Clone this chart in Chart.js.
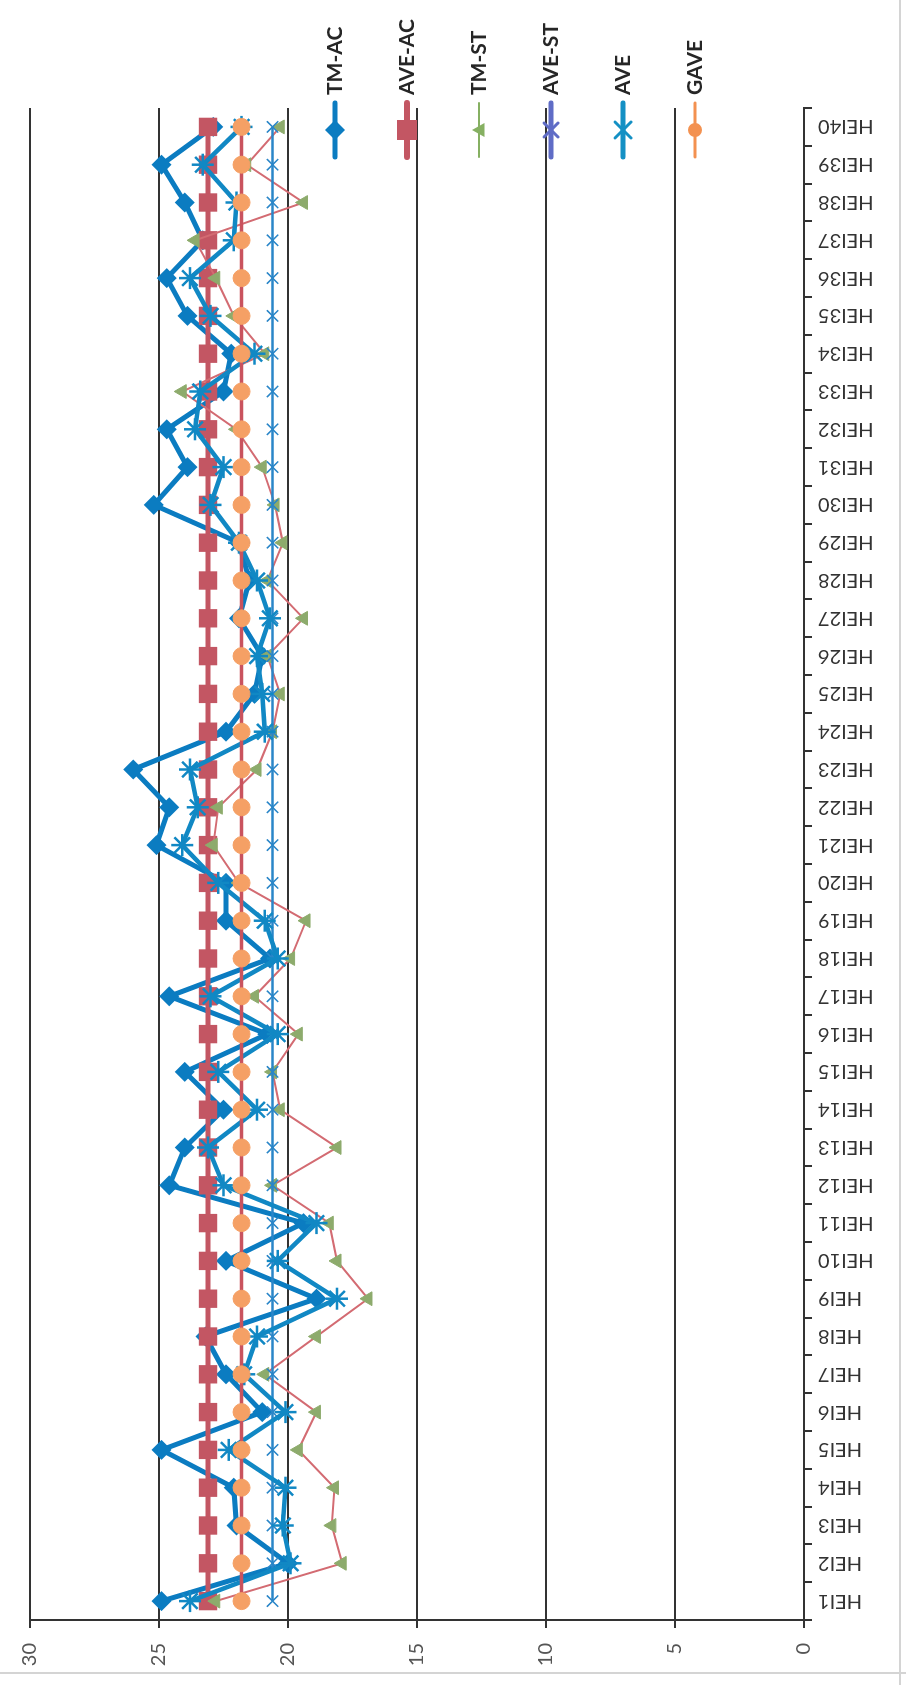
<!DOCTYPE html>
<html>
<head>
<meta charset="utf-8">
<script src="https://cdn.jsdelivr.net/npm/chart.js@4.4.1/dist/chart.umd.min.js"></script>
<style>
  html, body { margin: 0; padding: 0; background: #fff; }
  body { width: 906px; height: 1685px; overflow: hidden; position: relative; }
  /* the scanned chart is landscape, turned a quarter left on the page */
  #wrap { position: absolute; left: 0; top: 0; width: 1685px; height: 906px;
          transform-origin: 0 0; transform: translateY(1685px) rotate(-90deg); }
</style>
</head>
<body>
<div id="wrap"><canvas id="c" width="1685" height="906"></canvas></div>
<script>
const categories = ['HEI1','HEI2','HEI3','HEI4','HEI5','HEI6','HEI7','HEI8','HEI9','HEI10',
  'HEI11','HEI12','HEI13','HEI14','HEI15','HEI16','HEI17','HEI18','HEI19','HEI20',
  'HEI21','HEI22','HEI23','HEI24','HEI25','HEI26','HEI27','HEI28','HEI29','HEI30',
  'HEI31','HEI32','HEI33','HEI34','HEI35','HEI36','HEI37','HEI38','HEI39','HEI40'];

const tmAC  = [24.9, 20.0, 22.0, 22.1, 24.9, 21.0, 22.4, 23.2, 18.9, 22.4,
               19.4, 24.6, 24.0, 22.5, 24.0, 20.8, 24.6, 20.7, 22.4, 22.4,
               25.1, 24.6, 26.0, 22.4, 21.3, 21.0, 21.9, 21.5, 21.9, 25.2,
               23.9, 24.7, 22.5, 22.2, 23.9, 24.7, 23.3, 24.0, 24.9, 22.9];
const aveAC = [23.1, 23.1, 23.1, 23.1, 23.1, 23.1, 23.1, 23.1, 23.1, 23.1,
               23.1, 23.1, 23.1, 23.1, 23.1, 23.1, 23.1, 23.1, 23.1, 23.1,
               23.1, 23.1, 23.1, 23.1, 23.1, 23.1, 23.1, 23.1, 23.1, 23.1,
               23.1, 23.1, 23.1, 23.1, 23.1, 23.1, 23.1, 23.1, 23.1, 23.1];
const tmST  = [22.8, 17.9, 18.3, 18.2, 19.6, 18.9, 20.9, 18.9, 16.9, 18.1,
               18.4, 20.6, 18.1, 20.3, 20.6, 19.6, 21.3, 19.9, 19.3, 21.9,
               22.9, 22.7, 21.2, 20.6, 20.3, 20.8, 19.4, 20.8, 20.2, 20.5,
               21.0, 22.0, 24.1, 20.9, 22.1, 22.8, 23.6, 19.4, 21.6, 20.3];
const aveST = [20.6, 20.6, 20.6, 20.6, 20.6, 20.6, 20.6, 20.6, 20.6, 20.6,
               20.6, 20.6, 20.6, 20.6, 20.6, 20.6, 20.6, 20.6, 20.6, 20.6,
               20.6, 20.6, 20.6, 20.6, 20.6, 20.6, 20.6, 20.6, 20.6, 20.6,
               20.6, 20.6, 20.6, 20.6, 20.6, 20.6, 20.6, 20.6, 20.6, 20.6];
const ave   = [23.8, 19.9, 20.2, 20.1, 22.3, 20.1, 21.7, 21.2, 18.1, 20.4,
               18.9, 22.5, 23.1, 21.2, 22.7, 20.4, 23.0, 20.4, 20.9, 22.7,
               24.1, 23.5, 23.8, 20.9, 21.0, 21.2, 20.7, 21.2, 21.9, 23.0,
               22.5, 23.6, 23.4, 21.3, 23.0, 23.8, 22.1, 22.0, 23.3, 21.8];
const gave  = [21.8, 21.8, 21.8, 21.8, 21.8, 21.8, 21.8, 21.8, 21.8, 21.8,
               21.8, 21.8, 21.8, 21.8, 21.8, 21.8, 21.8, 21.8, 21.8, 21.8,
               21.8, 21.8, 21.8, 21.8, 21.8, 21.8, 21.8, 21.8, 21.8, 21.8,
               21.8, 21.8, 21.8, 21.8, 21.8, 21.8, 21.8, 21.8, 21.8, 21.8];

const valueTicks = { min: 0, max: 30, step: 5 };

// legend swatches as printed (the scan shifted some line colours in the plot)
const legendColors = ['#0b7cc1', '#c35663', '#86b062', '#5f6cc6', '#1490c4', '#f39150'];
const legendLineW  = [5, 6, 2, 5, 5, 3];

Chart.defaults.font.family = 'Lato, "Open Sans", sans-serif';
Chart.defaults.color = '#333';

function drawShape(ctx, s, x, y, r) {
  ctx.beginPath();
  if (s === 'rectRot') {
    ctx.moveTo(x - r, y); ctx.lineTo(x, y - r); ctx.lineTo(x + r, y); ctx.lineTo(x, y + r);
    ctx.closePath(); ctx.fill();
  } else if (s === 'rect') {
    ctx.rect(x - r, y - r, 2 * r, 2 * r); ctx.fill();
  } else if (s === 'triangle') {
    ctx.moveTo(x - r, y + r * 0.8); ctx.lineTo(x, y - r); ctx.lineTo(x + r, y + r * 0.8);
    ctx.closePath(); ctx.fill();
  } else if (s === 'crossRot') {
    ctx.moveTo(x - r, y - r); ctx.lineTo(x + r, y + r);
    ctx.moveTo(x - r, y + r); ctx.lineTo(x + r, y - r); ctx.stroke();
  } else if (s === 'star') {
    ctx.moveTo(x - r, y - r); ctx.lineTo(x + r, y + r);
    ctx.moveTo(x - r, y + r); ctx.lineTo(x + r, y - r);
    ctx.moveTo(x - r * 1.3, y); ctx.lineTo(x + r * 1.3, y); ctx.stroke();
  } else {
    ctx.arc(x, y, r, 0, Math.PI * 2); ctx.fill();
  }
}

// Excel-style legend laid over the upper right of the plot
const overlayLegend = {
  id: 'overlayLegend',
  afterDraw(chart) {
    const ctx = chart.ctx;
    const x0 = 1528, x1 = 1582, tx = 1590;
    const top = 335, step = 72;
    const sizes = [10, 10, 7, 7, 8, 7];
    ctx.save();
    chart.data.datasets.forEach((ds, i) => {
      const y = top + i * step;
      const c = legendColors[i];
      ctx.strokeStyle = c; ctx.fillStyle = c;
      ctx.lineWidth = legendLineW[i]; ctx.lineCap = 'round';
      ctx.beginPath(); ctx.moveTo(x0, y); ctx.lineTo(x1, y); ctx.stroke();
      ctx.lineWidth = 3;
      drawShape(ctx, ds.pointStyle, (x0 + x1) / 2, y, sizes[i]);
      ctx.fillStyle = '#262626';
      ctx.font = 'bold 21px Lato, sans-serif';
      ctx.textBaseline = 'middle';
      ctx.fillText(ds.label, tx, y);
    });
    ctx.restore();
  }
};

// faint scanner frame edges
const frame = {
  id: 'frame',
  beforeDraw(chart) {
    const ctx = chart.ctx;
    ctx.save();
    ctx.strokeStyle = '#d4d4d4'; ctx.lineWidth = 2;
    ctx.beginPath();
    ctx.moveTo(12, 0); ctx.lineTo(12, 906);
    ctx.moveTo(0, 900); ctx.lineTo(1685, 900);
    ctx.stroke();
    ctx.restore();
  }
};

new Chart(document.getElementById('c'), {
  type: 'line',
  data: {
    labels: categories,
    datasets: [
      { label: 'TM-AC', data: tmAC, order: 5,
        borderColor: '#0b7cc1', borderWidth: 5, backgroundColor: '#0b7cc1',
        pointStyle: 'rectRot', pointRadius: 10, pointBorderWidth: 0 },
      { label: 'AVE-AC', data: aveAC, order: 4,
        borderColor: '#c35663', borderWidth: 5, backgroundColor: '#c35663',
        pointStyle: 'rect', pointRadius: 13, pointBorderWidth: 0 },
      { label: 'TM-ST', data: tmST, order: 3,
        borderColor: '#d36b72', borderWidth: 2, backgroundColor: '#8dab6c',
        pointStyle: 'triangle', pointRadius: 8, pointBorderColor: '#8dab6c', pointBorderWidth: 1 },
      { label: 'AVE-ST', data: aveST, order: 2,
        borderColor: '#2a86c8', borderWidth: 2.5, backgroundColor: '#2a86c8',
        pointStyle: 'crossRot', pointRadius: 8, pointBorderColor: '#2a86c8', pointBorderWidth: 1.5 },
      { label: 'AVE', data: ave, order: 1,
        borderColor: '#1188c4', borderWidth: 4.5, backgroundColor: '#1188c4',
        pointStyle: 'star', pointRadius: 11, pointBorderColor: '#1188c4', pointBorderWidth: 2.5 },
      { label: 'GAVE', data: gave, order: 0,
        borderColor: '#c9535e', borderWidth: 3.5, backgroundColor: '#f5a065',
        pointStyle: 'circle', pointRadius: 8.5, pointBorderColor: '#f5a065', pointBorderWidth: 1 },
    ],
  },
  options: {
    responsive: false,
    animation: false,
    layout: { padding: { top: 30, right: 108, bottom: 0, left: 0 } },
    plugins: { legend: { display: false }, tooltip: { enabled: false } },
    elements: { line: { tension: 0 } },
    scales: {
      x: {
        type: 'category',
        offset: true,
        grid: { display: true, drawOnChartArea: false, drawTicks: true, tickLength: 8,
                offset: true, color: '#333', lineWidth: 2 },
        border: { display: true, color: '#333', width: 2 },
        ticks: { autoSkip: false, minRotation: 90, maxRotation: 90, padding: 6,
                 color: '#333', font: { size: 20 } },
        afterFit(s) { s.height = 102; },
      },
      y: {
        min: valueTicks.min, max: valueTicks.max,
        grid: { color: '#333', lineWidth: 2, tickLength: 8 },
        border: { display: true, color: '#333', width: 2 },
        ticks: { stepSize: valueTicks.step, padding: 15, color: '#555', font: { size: 20 } },
        afterFit(s) { s.width = 65; },
      },
    },
  },
  plugins: [frame, overlayLegend],
});
</script>
</body>
</html>
